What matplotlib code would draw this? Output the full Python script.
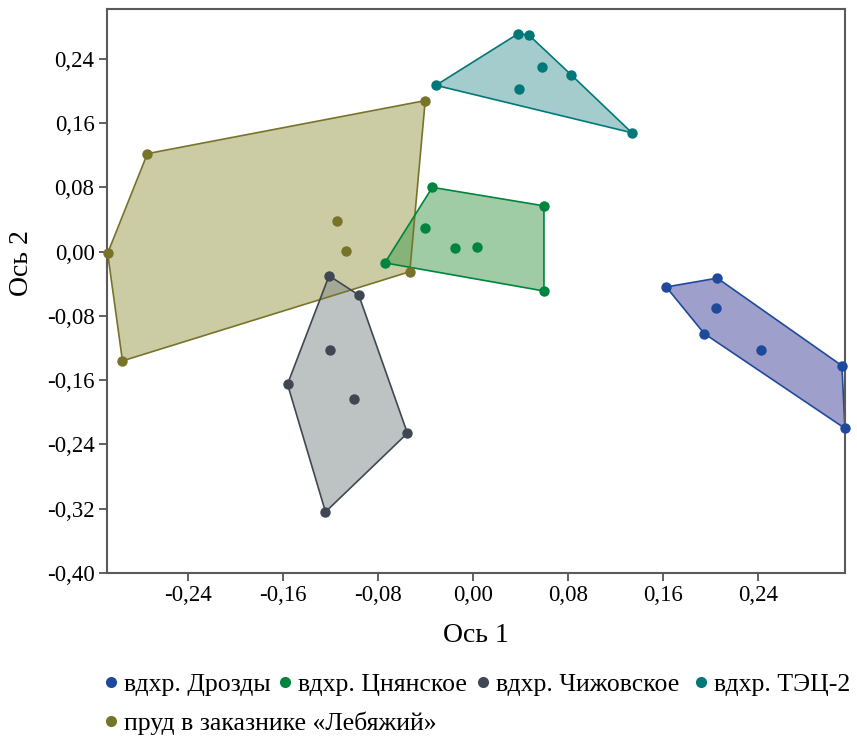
import numpy as np
import matplotlib.pyplot as plt
from matplotlib.lines import Line2D

plt.rcParams['font.family'] = ['Liberation Serif', 'DejaVu Serif']

# ------------------------------------------------------------
# data
# ------------------------------------------------------------
names = ["вдхр. Дрозды", "вдхр. Цнянское", "вдхр. Чижовское",
         "вдхр. ТЭЦ-2", "пруд в заказнике «Лебяжий»"]

drozdy_x = [0.163, 0.206, 0.205, 0.195, 0.243, 0.311, 0.3135]
drozdy_y = [-0.044, -0.033, -0.070, -0.102, -0.122, -0.142, -0.220]

tsn_x = [-0.034, 0.060, -0.040, -0.015, 0.004, -0.074, 0.060]
tsn_y = [0.080, 0.057, 0.030, 0.005, 0.006, -0.014, -0.049]

chizh_x = [-0.121, -0.096, -0.120, -0.156, -0.100, -0.055, -0.124]
chizh_y = [-0.030, -0.054, -0.122, -0.165, -0.183, -0.226, -0.324]

tec_x = [0.038, 0.047, 0.058, 0.083, -0.031, 0.039, 0.134]
tec_y = [0.271, 0.270, 0.230, 0.220, 0.207, 0.202, 0.148]

leb_x = [-0.040, -0.274, -0.114, -0.107, -0.3075, -0.053, -0.295]
leb_y = [0.188, 0.122, 0.038, 0.001, -0.002, -0.025, -0.136]

point_colors = ["#1f4a9c", "#00843f", "#3f4852", "#00787a", "#77742a"]
fill_colors = ["#41419b", "#419b4b", "#7d8787", "#4b9b9b", "#9b9b4b"]

groups = [(drozdy_x, drozdy_y), (tsn_x, tsn_y), (chizh_x, chizh_y),
          (tec_x, tec_y), (leb_x, leb_y)]


def hull(xs, ys):
    pts = sorted(zip(xs, ys))

    def cross(o, a, b):
        return (a[0] - o[0]) * (b[1] - o[1]) - (a[1] - o[1]) * (b[0] - o[0])

    lower, upper = [], []
    for p in pts:
        while len(lower) >= 2 and cross(lower[-2], lower[-1], p) <= 0:
            lower.pop()
        lower.append(p)
    for p in reversed(pts):
        while len(upper) >= 2 and cross(upper[-2], upper[-1], p) <= 0:
            upper.pop()
        upper.append(p)
    return np.array(lower[:-1] + upper[:-1])


# ------------------------------------------------------------
# plot
# ------------------------------------------------------------
W, H = 857, 738
fig = plt.figure(figsize=(W / 100, H / 100), dpi=100)
ax = fig.add_axes([0.1249, 0.2236, 0.861, 0.7642])

# draw order: olive first, then others
order = [4, 1, 3, 2, 0]
for i in order:
    xs, ys = groups[i]
    h = hull(xs, ys)
    ax.fill(h[:, 0], h[:, 1], facecolor=fill_colors[i], alpha=0.5,
            edgecolor="none", zorder=1)
    hc = np.vstack([h, h[:1]])
    ax.plot(hc[:, 0], hc[:, 1], color=point_colors[i], lw=1.2, zorder=2)
for i in order:
    xs, ys = groups[i]
    ax.plot(xs, ys, "o", color=point_colors[i], ms=7.5, mec="none",
            zorder=3, clip_on=False)

ax.set_xlim(-0.308, 0.3135)
ax.set_ylim(-0.40, 0.302)

xt = [-0.24, -0.16, -0.08, 0.00, 0.08, 0.16, 0.24]
yt = [-0.40, -0.32, -0.24, -0.16, -0.08, 0.00, 0.08, 0.16, 0.24]
ax.set_xticks(xt)
ax.set_yticks(yt)
ax.set_xticklabels([f"{v:.2f}".replace(".", ",").replace("-0,00", "0,00") for v in xt])
ax.set_yticklabels([f"{v:.2f}".replace(".", ",").replace("-0,00", "0,00") for v in yt])
ax.tick_params(labelsize=16.5, length=6, width=1.3, color="#555555", pad=3)

for s in ax.spines.values():
    s.set_color("#5a5a5a")
    s.set_linewidth(1.5)

ax.set_xlabel("Ось 1", fontsize=20, labelpad=12)
ax.set_ylabel("Ось 2", fontsize=20)
ax.yaxis.set_label_coords(-0.099, 0.55)

# legend drawn by hand: four items in the first row, the pond below
leg_pos = [(111, 682), (285, 682), (483, 682), (701, 682), (111, 721)]
for i, (px, py) in enumerate(leg_pos):
    fx, fy = px / W, 1 - py / H
    fig.add_artist(Line2D([fx], [fy], transform=fig.transFigure, ls="none",
                          marker="o", ms=8, mec="none", color=point_colors[i]))
    fig.text(fx + 13 / W, fy, names[i], fontsize=18.5, ha="left",
             va="center_baseline")

plt.savefig("out.png", dpi=100)
